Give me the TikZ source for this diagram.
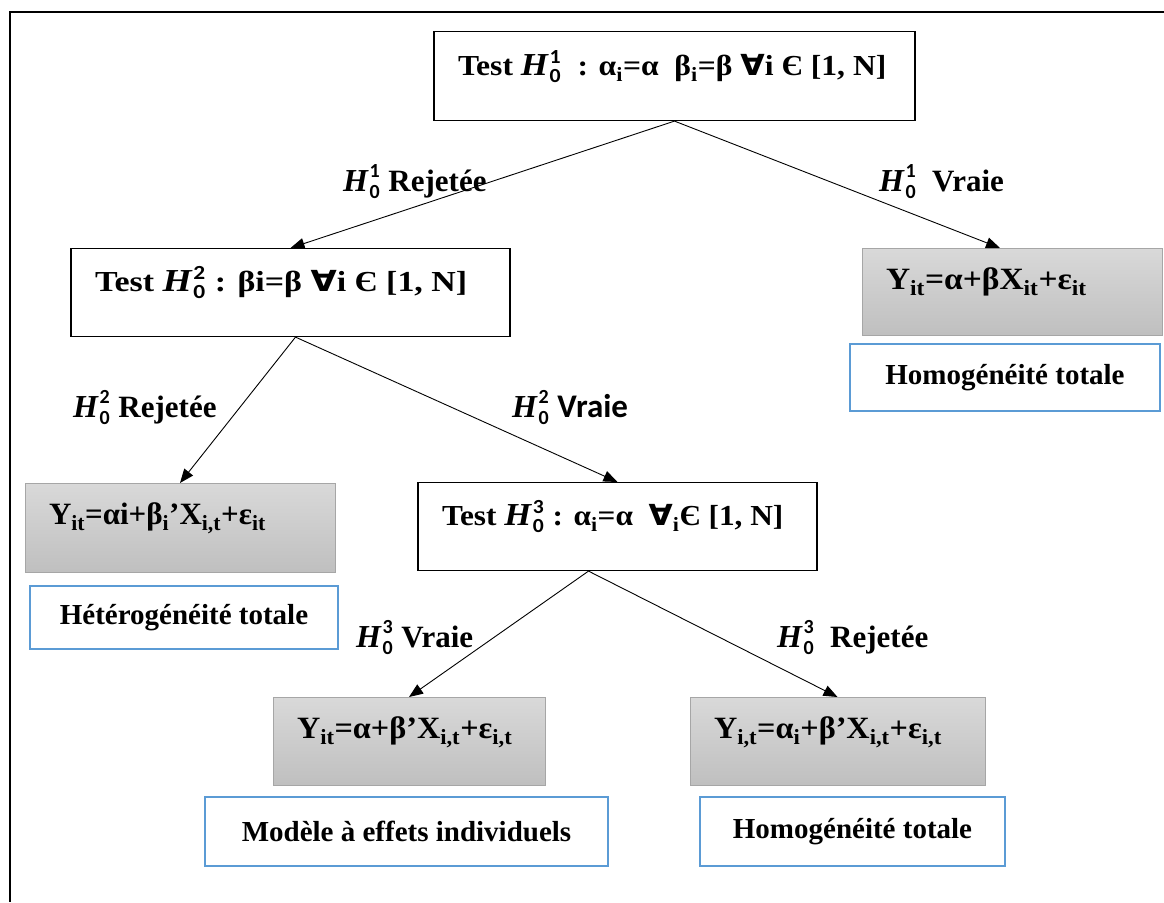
\documentclass[tikz,border=0pt]{standalone}
\usepackage{fontspec}
\setmainfont{Liberation Serif}
\newfontfamily\djv{DejaVu Sans}
\newfontfamily\carl{Carlito}
\usetikzlibrary{arrows.meta,calc}
\definecolor{blueb}{HTML}{5B9BD5}
\newcommand\sbs[1]{\textsubscript{#1}}
\newcommand\fa{{\djv\bfseries ∀}}
\newcommand\Hz[1]{{\fontsize{32}{32}\selectfont\itshape H}\kern1.5pt\rlap{\raisebox{0.42em}{\fontsize{20}{20}\selectfont\carl #1}}\raisebox{-0.24em}{\fontsize{20}{20}\selectfont\carl 0}\kern1pt\relax}
\newcommand\lbx[3]{\makebox[#1][l]{\hspace{24pt}\scalebox{#3}[1]{#2}}}
\tikzset{
  base/.style={inner xsep=0pt, inner ysep=0pt, anchor=north},
  testbox/.style={base, draw=black, line width=1.1pt},
  eqbox/.style={base, draw=gray!70, line width=0.8pt, top color=gray!30, bottom color=gray!50, font=\fontsize{31}{36}\selectfont\bfseries},
  namebox/.style={base, draw=blueb, line width=2pt, align=center},
  lbl/.style={inner sep=0pt, anchor=base west, font=\fontsize{31}{36}\selectfont\bfseries},
  arr/.style={line width=0.9pt, -{Triangle[length=14pt,width=11pt]}}
}
\begin{document}
\begin{tikzpicture}[x=1pt,y=-1pt,font=\fontsize{29}{34}\selectfont\bfseries]
\useasboundingbox (0,0) rectangle (1164,902);
\draw[line width=2.2pt] (1164,12) -- (10,12) -- (10,902);
% test boxes
\node[testbox, text height=44pt, text depth=45pt] (t1) at (674.5,31)
  {\lbx{481pt}{Test \Hz{1}\ \ : α\sbs{i}=α\ \ β\sbs{i}=β \fa i Є [1, N]}{1.09}};
\node[testbox, text height=43pt, text depth=45pt] (t2) at (290.5,248)
  {\lbx{439pt}{Test \Hz{2} : βi=β \fa i Є [1, N]}{1.17}};
\node[testbox, text height=43pt, text depth=45pt] (t3) at (617.5,482)
  {\lbx{399pt}{Test \Hz{3} : α\sbs{i}=α\ \ \fa\sbs{i}Є [1, N]}{1.08}};
% equation boxes
\node[eqbox, text height=41pt, text depth=46pt] (r1) at (1012,248)
  {\lbx{300pt}{Y\sbs{it}=α+βX\sbs{it}+ε\sbs{it}}{1.08}};
\node[eqbox, text height=41pt, text depth=48pt] (l2) at (180,483)
  {\lbx{310pt}{Y\sbs{it}=αi+β\sbs{i}’X\sbs{i,t}+ε\sbs{it}}{1.0}};
\node[eqbox, text height=41pt, text depth=47pt] (b1) at (409,697)
  {\lbx{272pt}{Y\sbs{it}=α+β’X\sbs{i,t}+ε\sbs{i,t}}{1.04}};
\node[eqbox, text height=41pt, text depth=47pt] (b2) at (837.5,697)
  {\lbx{295pt}{Y\sbs{i,t}=α\sbs{i}+β’X\sbs{i,t}+ε\sbs{i,t}}{1.04}};
% name boxes
\node[namebox, minimum width=310pt, minimum height=67pt] (n1) at (1005,343) {Homogénéité totale};
\node[namebox, minimum width=308pt, minimum height=63pt] (n2) at (184,585) {Hétérogénéité totale};
\node[namebox, minimum width=403pt, minimum height=69pt] (n3) at (406.5,796) {Modèle à effets individuels};
\node[namebox, minimum width=305pt, minimum height=69pt] (n4) at (852.5,796) {Homogénéité totale};
% connectors
\draw[arr] (t1.south) -- (t2.north);
\draw[arr] (t1.south) -- ([xshift=-12pt]r1.north);
\draw[arr] ([xshift=5pt]t2.south) -- (l2.north);
\draw[arr] ([xshift=5pt]t2.south) -- (t3.north);
\draw[arr] ([xshift=-29pt]t3.south) -- (b1.north);
\draw[arr] ([xshift=-29pt]t3.south) -- (b2.north);
% labels
\node[lbl] (la) at (343,191) {\Hz{1} Rejetée};
\node[lbl] (lb) at (879,191) {\Hz{1}\ \ Vraie};
\node[lbl] (lc) at (73,417) {\Hz{2}\ Rejetée};
\node[lbl] (ld) at (512,417) {\Hz{2} {\carl\fontsize{33}{36}\selectfont Vraie}};
\node[lbl] (le) at (356,647) {\Hz{3} Vraie};
\node[lbl] (lf) at (777,647) {\Hz{3}\ \ Rejetée};
\end{tikzpicture}
\end{document}
